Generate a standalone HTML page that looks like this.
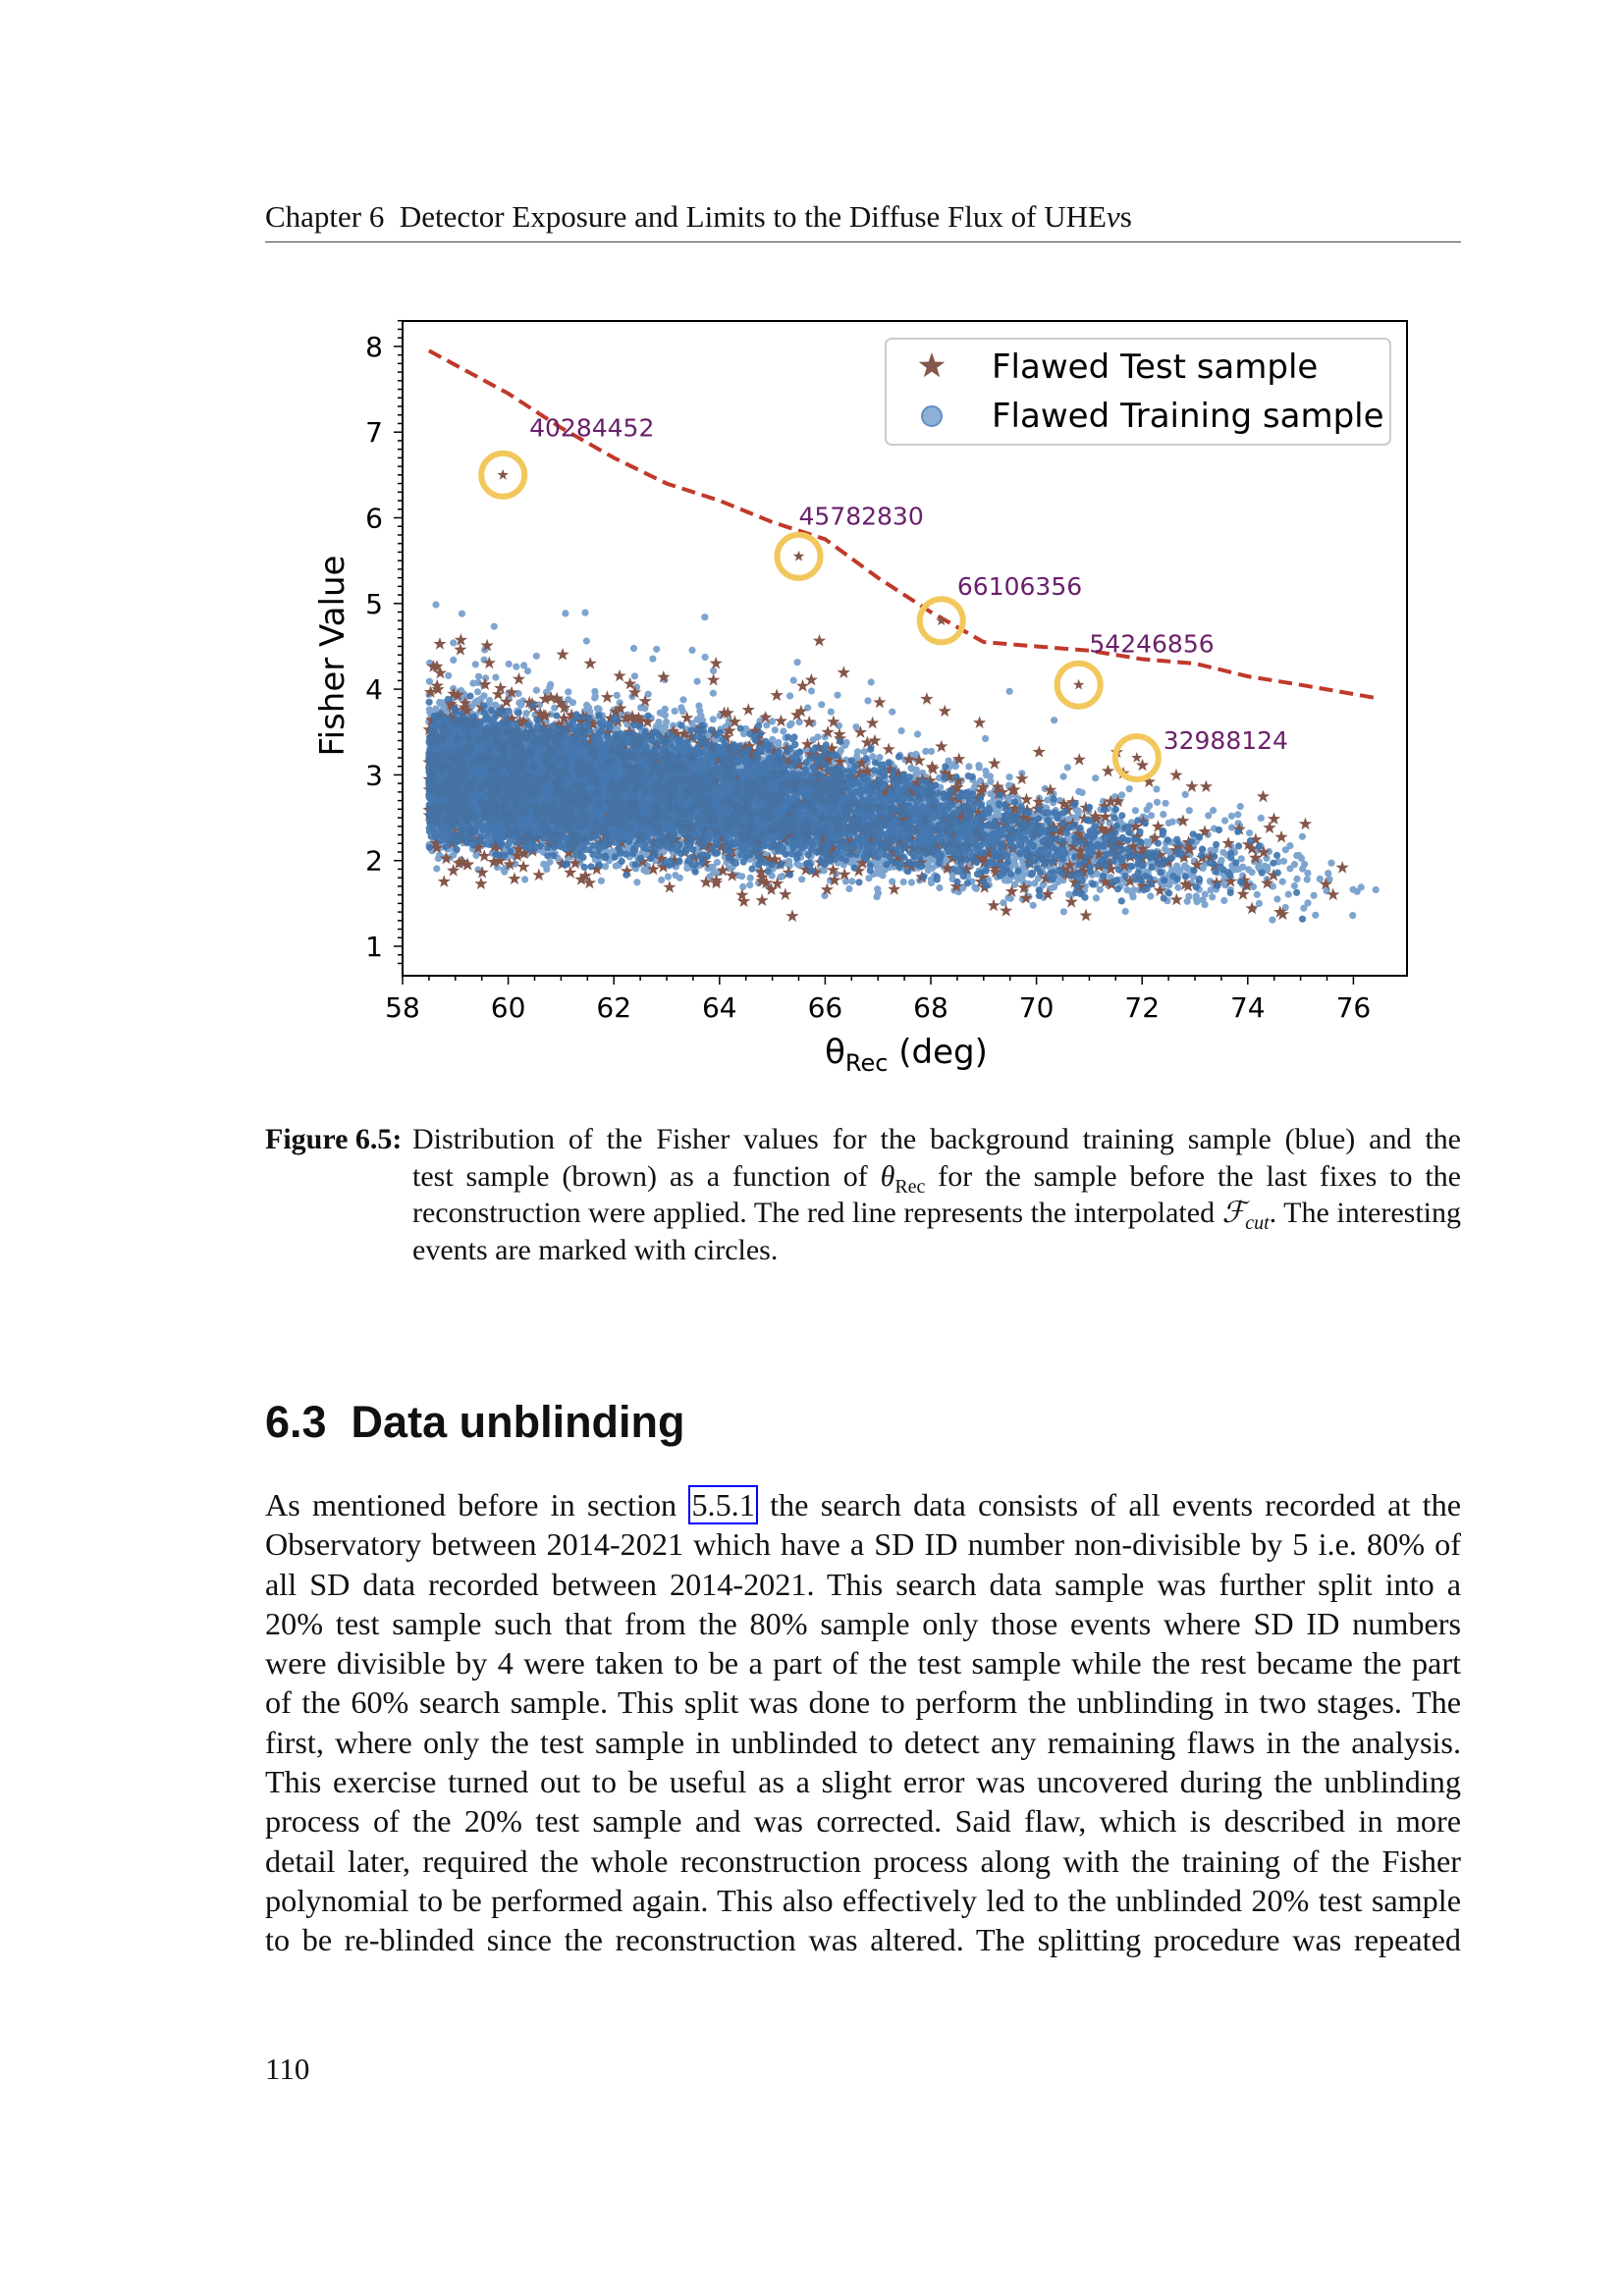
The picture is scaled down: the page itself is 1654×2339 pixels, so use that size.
<!DOCTYPE html>
<html><head><meta charset="utf-8"><style>
body{margin:0;background:#fff;}
#pg{position:relative;width:1654px;height:2339px;overflow:hidden;font-family:"Liberation Serif",serif;color:#111;}
.t{position:absolute;white-space:nowrap;}
.body{position:absolute;left:270px;width:1218px;font-size:32.2px;line-height:40.3px;text-align:justify;top:1513px;}
.body>span{display:block;text-align-last:justify;white-space:nowrap;}
sub{line-height:0;font-size:20px;}
</style></head><body><div id="pg">
<div class="t" style="left:270px;top:203px;font-size:31px;">Chapter 6&nbsp; Detector Exposure and Limits to the Diffuse Flux of UHE<i>ν</i>s</div>
<div style="position:absolute;left:270px;top:246px;width:1218px;height:1px;background:#444"></div>
<svg id="ch" style="position:absolute;left:0;top:0" width="1654" height="1120" font-family="DejaVu Sans, sans-serif"></svg>
<div class="t" style="left:270px;top:1142px;font-size:30px;line-height:37.5px;white-space:normal;width:1218px">
<div style="display:flex"><b style="width:150px;flex:none">Figure 6.5:</b><div style="text-align:justify;width:1068px">
<span style="display:block;text-align-last:justify">Distribution of the Fisher values for the background training sample (blue) and the</span>
<span style="display:block;text-align-last:justify">test sample (brown) as a function of <i>θ</i><sub>Rec</sub> for the sample before the last fixes to the</span>
<span style="display:block;text-align-last:justify">reconstruction were applied. The red line represents the interpolated <i>ℱ<sub>cut</sub></i>. The interesting</span>
<span style="display:block">events are marked with circles.</span></div></div></div>
<div class="t" style="left:270px;top:1423px;font-family:'Liberation Sans',sans-serif;font-weight:bold;font-size:45px;">6.3&nbsp; Data unblinding</div>
<div class="body">
<span>As mentioned before in section <span style="display:inline;border:2px solid #00f;padding:0 1px">5.5.1</span> the search data consists of all events recorded at the</span>
<span>Observatory between 2014-2021 which have a SD ID number non-divisible by 5 i.e. 80% of</span>
<span>all SD data recorded between 2014-2021. This search data sample was further split into a</span>
<span>20% test sample such that from the 80% sample only those events where SD ID numbers</span>
<span>were divisible by 4 were taken to be a part of the test sample while the rest became the part</span>
<span>of the 60% search sample. This split was done to perform the unblinding in two stages. The</span>
<span>first, where only the test sample in unblinded to detect any remaining flaws in the analysis.</span>
<span>This exercise turned out to be useful as a slight error was uncovered during the unblinding</span>
<span>process of the 20% test sample and was corrected. Said flaw, which is described in more</span>
<span>detail later, required the whole reconstruction process along with the training of the Fisher</span>
<span>polynomial to be performed again. This also effectively led to the unblinded 20% test sample</span>
<span>to be re-blinded since the reconstruction was altered. The splitting procedure was repeated</span>
</div>
<div class="t" style="left:270px;top:2090px;font-size:31px;">110</div>
</div>
<script>
var s=document.getElementById('ch'),h='';
function X(v){return 410+(v-58)*53.8}function Y(v){return 964-(v-1)*87.3}
var seed=7;function r(){seed=(seed*16807)%2147483647;return seed/2147483647}
function g(){return (r()+r()+r()-1.5)/1.5}
function mean(x){return x<66?3.0-(x-58.5)*0.05:(x<70?2.62-(x-66)*0.1:2.22-(x-70)*0.08)}
function half(x){return x<64?1.05:(x<72?1.05-(x-64)*0.05:0.65)}
function px(k){var u=r();return 58.5+18*(1-Math.pow(u,1/(k+1)))}
var pts='',st='',pts2='';
for(var i=0;i<7000;i++){var x=px(1.5),y=mean(x)+g()*half(x)*1.15;if(r()<0.03)y+=r()*1.4;
pts+='<circle cx="'+X(x).toFixed(1)+'" cy="'+Y(y).toFixed(1)+'" r="3.6"/>';}
function star(cx,cy,R){var p='';for(var k=0;k<10;k++){var a=-Math.PI/2+k*Math.PI/5,rr=k%2?R*0.4:R;p+=(cx+rr*Math.cos(a)).toFixed(1)+','+(cy+rr*Math.sin(a)).toFixed(1)+' ';}return '<polygon points="'+p+'"/>'}
for(var i=0;i<1300;i++){var x=px(1.3),y=mean(x)+g()*half(x)*1.4;if(r()<0.12)y+=r()*1.2;st+=star(X(x),Y(y),7);}
for(var i=0;i<9000;i++){var x=px(2.6),y=mean(x)+g()*half(x)*0.95;pts2+='<circle cx="'+X(x).toFixed(1)+'" cy="'+Y(y).toFixed(1)+'" r="3.6"/>';}
h+='<g fill="#5f8fc4" opacity="0.8">'+pts+'</g><g fill="#85564a">'+st+'</g><g fill="#3f74ad" opacity="0.9">'+pts2+'</g>';
var L=[[58.5,7.95],[60,7.45],[61,7.05],[62,6.7],[63,6.4],[64,6.2],[65,5.95],[66,5.75],[67,5.3],[68,4.9],[69,4.55],[70,4.5],[71,4.45],[72,4.35],[73,4.3],[74,4.15],[75,4.05],[76.4,3.9]];
h+='<polyline fill="none" stroke="#c0392b" stroke-width="4" stroke-dasharray="14,7" points="'+L.map(function(p){return X(p[0]).toFixed(1)+','+Y(p[1]).toFixed(1)}).join(' ')+'"/>';
var C=[[59.9,6.5,'40284452',60.4,6.95],[65.5,5.55,'45782830',65.5,5.92],[68.2,4.8,'66106356',68.5,5.1],[70.8,4.05,'54246856',71,4.43],[71.9,3.2,'32988124',72.4,3.3]];
C.forEach(function(c){h+='<circle cx="'+X(c[0])+'" cy="'+Y(c[1])+'" r="22" fill="none" stroke="#f2c75c" stroke-width="6"/>'+star(X(c[0]),Y(c[1]),6).replace('<polygon','<polygon fill="#85564a"')+'<text x="'+X(c[3])+'" y="'+Y(c[4])+'" font-size="25" fill="#6a1f6a">'+c[2]+'</text>';});
h+='<rect x="410" y="327" width="1023" height="667" fill="none" stroke="#000" stroke-width="2"/>';
for(var v=58;v<=76;v+=0.5){var x=X(v),mj=(v%2==0);h+='<line x1="'+x+'" y1="994" x2="'+x+'" y2="'+(994+(mj?9:5))+'" stroke="#000" stroke-width="1.5"/>';if(mj)h+='<text x="'+x+'" y="1036" font-size="28" text-anchor="middle">'+v+'</text>';}
for(var v=0.8;v<=8.3;v+=0.1){v=Math.round(v*10)/10;var y=Y(v),mj=(v%1==0);h+='<line x1="'+(410-(mj?9:5))+'" y1="'+y+'" x2="410" y2="'+y+'" stroke="#000" stroke-width="1.5"/>';if(mj)h+='<text x="390" y="'+(y+10)+'" font-size="28" text-anchor="end">'+v+'</text>';}
h+='<text x="923" y="1083" font-size="34" text-anchor="middle">θ<tspan font-size="24" dy="8">Rec</tspan><tspan dy="-8"> (deg)</tspan></text>';
h+='<text transform="translate(350,668) rotate(-90)" font-size="34" text-anchor="middle">Fisher Value</text>';
h+='<rect x="902" y="345" width="514" height="108" rx="6" fill="#fff" fill-opacity="0.85" stroke="#ccc" stroke-width="2"/>'+star(949,373,14).replace('<polygon','<polygon fill="#85564a"')+'<circle cx="949" cy="424" r="10" fill="#8fb0d6" stroke="#5f8fc4" stroke-width="2"/><text x="1010" y="385" font-size="34">Flawed Test sample</text><text x="1010" y="435" font-size="34">Flawed Training sample</text>';
s.innerHTML=h;
</script></body></html>
